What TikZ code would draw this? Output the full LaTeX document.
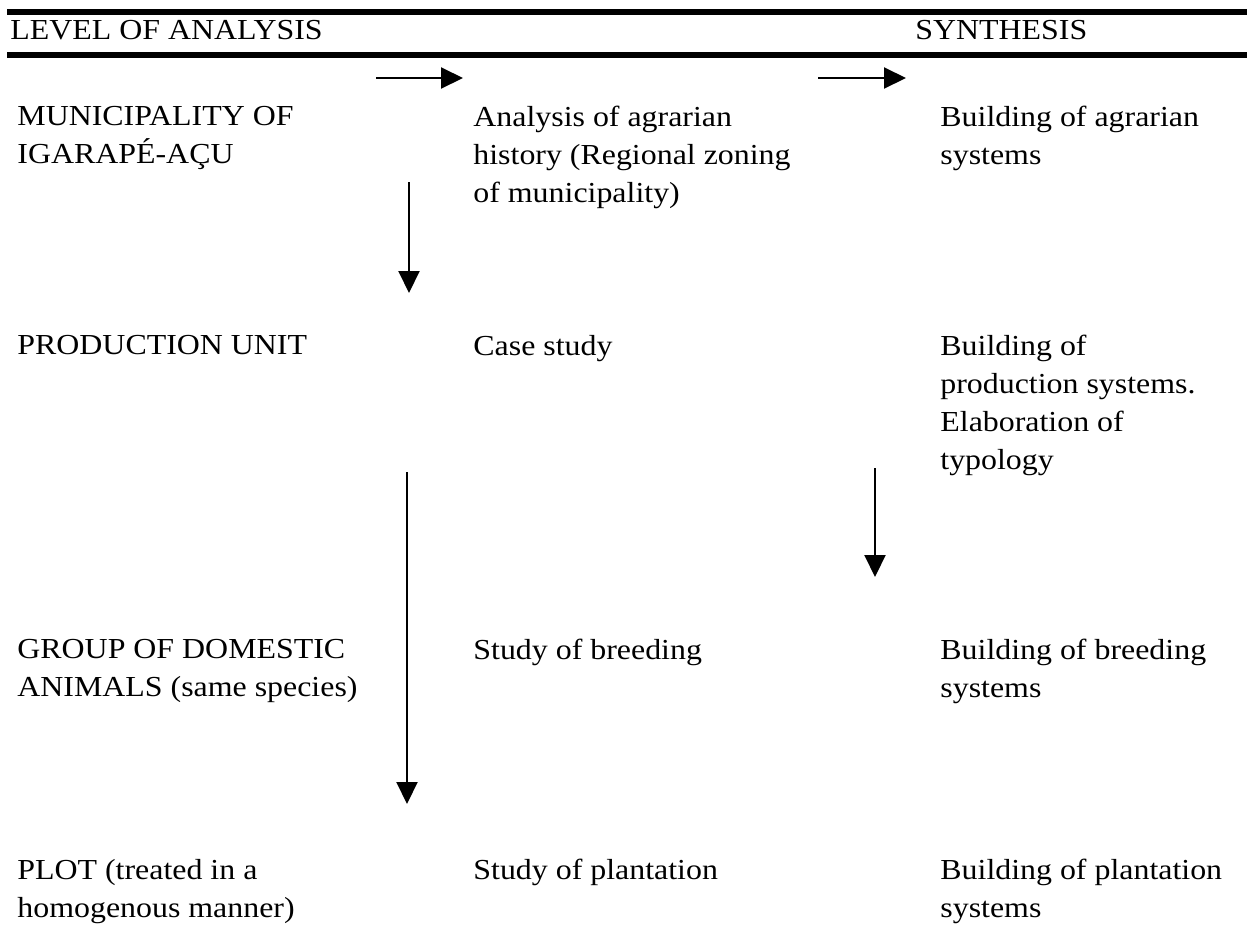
\documentclass[tikz,border=0pt]{standalone}
\usepackage{fontspec}
\setmainfont{Liberation Serif}[FakeStretch=1.1]
\usepackage{tikz}
\usetikzlibrary{positioning, arrows.meta}

\begin{document}
\begin{tikzpicture}[x=0.5pt, y=-0.5pt,
        txt/.style={anchor=north west, inner sep=0pt, align=left, font=\fontsize{14.5}{19}\selectfont},
        head/.style={anchor=base west, inner sep=0pt, font=\fontsize{14.5}{19}\selectfont},
        arr/.style={-{Triangle[length=11pt, width=10.5pt]}, line width=1pt},
        rule/.style={line width=3pt}]
            \useasboundingbox (0, 0) rectangle (1247, 927);

            % header
            \coordinate (r1a) at (7, 12);
            \coordinate (r1b) at (1247, 12);
            \coordinate (r2a) at (7, 55);
            \coordinate (r2b) at (1247, 55);
            \draw [rule] (r1a) -- (r1b);
            \draw [rule] (r2a) -- (r2b);
            \node [head] (lvl) at (10, 39) {LEVEL OF ANALYSIS};
            \node [head] (syn) at (915, 39) {SYNTHESIS};

            % rows (top of first line)
            \node [txt] (mun) at (17, 106) {MUNICIPALITY OF\\IGARAPÉ-AÇU};
            \node [txt] (hist) at (473, 106) {Analysis of agrarian\\history (Regional zoning\\of municipality)};
            \node [txt] (agr) at (940, 106) {Building of agrarian\\systems};

            \node [txt] (unit) at (17, 335) {PRODUCTION UNIT};
            \node [txt] (case) at (473, 335) {Case study};
            \node [txt] (prod) at (940, 335) {Building of\\production systems.\\Elaboration of\\typology};

            \node [txt] (group) at (17, 639) {GROUP OF DOMESTIC\\ANIMALS (same species)};
            \node [txt] (breed) at (473, 639) {Study of breeding};
            \node [txt] (bbreed) at (940, 639) {Building of breeding\\systems};

            \node [txt] (plot) at (17, 859) {PLOT (treated in a\\homogenous manner)};
            \node [txt] (plant) at (473, 859) {Study of plantation};
            \node [txt] (bplant) at (940, 859) {Building of plantation\\systems};

            % arrows
            \coordinate (h1s) at (376, 78);
            \coordinate (h1e) at (463, 78);
            \coordinate (h2s) at (818, 78);
            \coordinate (h2e) at (906, 78);
            \coordinate (v1s) at (409, 182);
            \coordinate (v1e) at (409, 293);
            \coordinate (v2s) at (407, 472);
            \coordinate (v2e) at (407, 804);
            \coordinate (v3s) at (875, 468);
            \coordinate (v3e) at (875, 577);

            \draw [arr] (h1s) -- (h1e);
            \draw [arr] (h2s) -- (h2e);
            \draw [arr] (v1s) -- (v1e);
            \draw [arr] (v2s) -- (v2e);
            \draw [arr] (v3s) -- (v3e);
        \end{tikzpicture}
\end{document}
